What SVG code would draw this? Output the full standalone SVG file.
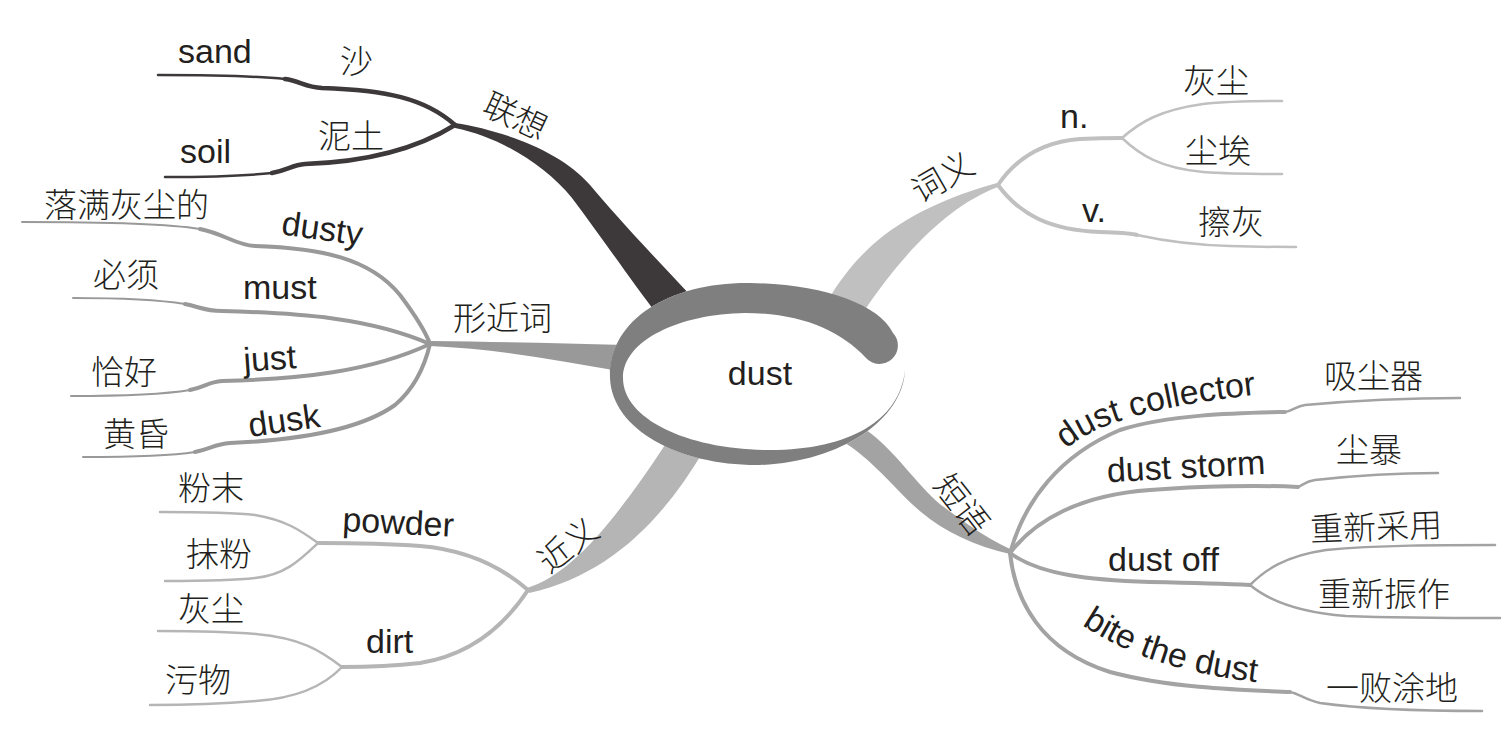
<svg xmlns="http://www.w3.org/2000/svg" width="1510" height="739" viewBox="0 0 1510 739">
<style>
.t{font-family:"Liberation Sans",Arial,sans-serif;font-size:34px;fill:#231f20}
.c{font-family:"Noto Sans CJK SC","Noto Sans CJK JP",sans-serif;font-size:33px;fill:#231f20;font-weight:300}
.ln{fill:none;stroke-linecap:round;stroke-linejoin:round}
.a{stroke-width:2}
.b{stroke-width:4}
.k1{stroke:#3d393a}.k2{stroke:#999999}.k3{stroke:#b5b5b5}.k4{stroke:#c0c0c0}.k5{stroke:#a3a3a3}
</style>
<defs>
<path id="pc" d="M1066,449 C1093,427 1138,407 1272,393"/>
<path id="pb" d="M1082,625 C1120,650 1170,672 1262,683"/>
</defs>
<g id="connectors">
<path fill="#3d393a" d="M455,123 C500,130 560,150 590,185 C615,215 655,258 695,300 L660,318 C632,282 600,235 572,198 C545,165 500,137 455,128 Z"/>
<path fill="#999999" d="M430,341 C500,342 560,343 625,345 L625,372 C560,361 500,349 430,346 Z"/>
<path fill="#b5b5b5" d="M527,588 C570,575 612,525 665,445 L703,452 C662,520 610,575 529,593 Z"/>
<path fill="#c0c0c0" d="M828,300 C858,250 900,210 997,183 L998,187 C950,205 905,250 862,314 Z"/>
<path fill="#a3a3a3" d="M840,440 C872,458 895,490 921,512 C945,532 975,546 1010,554 L1010,549 C980,535 955,515 941,505 C915,483 893,448 866,430 Z"/>
<path class="ln k1" stroke-width="2.5" d="M158,75 C210,75 255,76 285,79"/>
<path class="ln k1" stroke-width="4.5" d="M285,79 C300,81 305,87 322,88 C385,90 425,98 455,125"/>
<path class="ln k1" stroke-width="2.5" d="M165,177 C210,177 245,176 272,173"/>
<path class="ln k1" stroke-width="4.5" d="M272,173 C288,170 292,165 305,164 C365,162 415,150 455,125"/>
<path class="ln k2 a" d="M22,222 C100,222 170,224 200,229"/>
<path class="ln k2 b" d="M200,229 C225,234 235,245 255,246 C320,248 370,258 400,295 C415,315 425,330 430,344"/>
<path class="ln k2 a" d="M73,298 C120,298 160,300 185,304"/>
<path class="ln k2 b" d="M185,304 C200,307 205,311 222,311 C300,313 370,318 430,344"/>
<path class="ln k2 a" d="M71,396 C120,396 160,395 190,390"/>
<path class="ln k2 b" d="M190,390 C205,387 208,382 222,381 C300,379 370,372 430,344"/>
<path class="ln k2 a" d="M83,457 C130,457 170,456 195,452"/>
<path class="ln k2 b" d="M195,452 C210,449 215,444 230,443 C300,440 360,430 395,405 C415,388 425,365 430,344"/>
<path class="ln k3 b" d="M528,590 C505,570 470,550 420,546 C380,543 340,543 318,543"/>
<path class="ln k3" stroke-width="2.5" d="M318,543 C300,530 285,520 255,515 C230,512 200,512 160,512"/>
<path class="ln k3" stroke-width="2.5" d="M318,543 C300,560 285,575 255,578 C230,581 200,581 165,581"/>
<path class="ln k3 b" d="M528,590 C505,625 470,655 420,663 C385,667 360,667 342,667"/>
<path class="ln k3" stroke-width="2.5" d="M342,667 C320,650 300,638 256,634 C220,631 190,631 158,631"/>
<path class="ln k3" stroke-width="2.5" d="M342,667 C325,685 300,698 256,701 C220,704 185,705 150,705"/>
<path class="ln k4 b" d="M998,185 C1015,160 1040,142 1080,139 C1100,138 1110,138 1122,138"/>
<path class="ln k4" stroke-width="2.5" d="M1122,138 C1140,122 1160,110 1203,104 C1230,101 1255,101 1282,101"/>
<path class="ln k4" stroke-width="2.5" d="M1122,138 C1140,155 1160,168 1203,172 C1230,174 1255,174 1282,174"/>
<path class="ln k4 b" d="M998,185 C1020,215 1050,230 1100,232 C1125,233 1130,233 1137,235"/>
<path class="ln k4" stroke-width="2.5" d="M1137,235 C1160,240 1190,245 1230,246 C1260,247 1280,247 1296,247"/>
<path class="ln k5 b" d="M1010,553 C1025,500 1060,455 1120,430 C1170,414 1240,413 1285,412"/>
<path class="ln k5" stroke-width="2.5" d="M1285,412 C1293,411 1296,406 1305,405 C1360,400 1410,398 1460,398"/>
<path class="ln k5 b" d="M1010,553 C1035,520 1080,495 1150,490 C1200,486 1260,485 1298,487"/>
<path class="ln k5" stroke-width="2.5" d="M1298,487 C1303,485 1306,481 1315,480 C1360,475 1400,473 1438,473"/>
<path class="ln k5 b" d="M1010,553 C1040,575 1090,580 1150,582 C1200,583 1230,584 1250,585"/>
<path class="ln k5" stroke-width="2.5" d="M1250,585 C1265,570 1285,556 1326,550 C1380,545 1440,545 1495,545"/>
<path class="ln k5" stroke-width="2.5" d="M1250,585 C1268,600 1295,612 1346,616 C1400,618 1450,618 1500,618"/>
<path class="ln k5 b" d="M1010,553 C1015,600 1040,650 1110,672 C1170,688 1240,690 1290,692"/>
<path class="ln k5" stroke-width="2.5" d="M1290,692 C1300,694 1305,700 1320,703 C1370,710 1430,711 1482,711"/>
</g>
<g id="node-center">
<path fill="#ffffff" d="M905,370 C903,420 840,462 760,465 C680,466 612,430 610,378 C608,320 670,282 750,283 C820,284 880,305 893,335 Z"/>
<path fill="#7f7f7f" d="M905,370 C903,420 840,462 760,465 C680,466 612,430 610,378 C608,320 670,282 750,283 C820,284 878,303 893,333 A16,16 0 0 1 866,358 C840,330 800,313 745,313 C680,314 623,340 623,378 C623,420 690,450 770,450 C850,450 900,420 905,370 Z"/>
<text class="t" x="760" y="385" text-anchor="middle">dust</text>
</g>
<g id="node-lianxiang"><text class="c" x="515" y="128" text-anchor="middle" transform="rotate(25 515 117)">联想</text></g>
<g id="node-sand"><text class="t" x="178" y="63">sand</text></g>
<g id="node-sha"><text class="c" x="340" y="73">沙</text></g>
<g id="node-soil"><text class="t" x="180" y="163">soil</text></g>
<g id="node-nitu"><text class="c" x="318" y="148">泥土</text></g>
<g id="node-xingjinci"><text class="c" x="453" y="330">形近词</text></g>
<g id="node-dusty"><text class="t" x="322" y="240" text-anchor="middle" transform="rotate(8 322 231)">dusty</text></g>
<g id="node-luoman"><text class="c" x="44" y="217">落满灰尘的</text></g>
<g id="node-must"><text class="t" x="243" y="299">must</text></g>
<g id="node-bixu"><text class="c" x="93" y="287">必须</text></g>
<g id="node-just"><text class="t" x="270" y="370" text-anchor="middle" transform="rotate(-4 270 362)">just</text></g>
<g id="node-qiahao"><text class="c" x="91" y="384">恰好</text></g>
<g id="node-dusk"><text class="t" x="284" y="432" text-anchor="middle" transform="rotate(-8 284 420)">dusk</text></g>
<g id="node-huanghun"><text class="c" x="103" y="446">黄昏</text></g>
<g id="node-jinyi"><text class="c" x="568" y="557" text-anchor="middle" transform="rotate(-38 568 545)">近义</text></g>
<g id="node-powder"><text class="t" x="398" y="534" text-anchor="middle" transform="rotate(3 398 526)">powder</text></g>
<g id="node-fenmo"><text class="c" x="178" y="500">粉末</text></g>
<g id="node-mofen"><text class="c" x="186" y="566">抹粉</text></g>
<g id="node-dirt"><text class="t" x="366" y="653">dirt</text></g>
<g id="node-huichen1"><text class="c" x="178" y="621">灰尘</text></g>
<g id="node-wuwu"><text class="c" x="165" y="692">污物</text></g>
<g id="node-ciyi"><text class="c" x="943" y="189" text-anchor="middle" transform="rotate(-30 943 178)">词义</text></g>
<g id="node-n"><text class="t" x="1060" y="128">n.</text></g>
<g id="node-huichen2"><text class="c" x="1183" y="93">灰尘</text></g>
<g id="node-chenai"><text class="c" x="1185" y="163">尘埃</text></g>
<g id="node-v"><text class="t" x="1082" y="222">v.</text></g>
<g id="node-cahui"><text class="c" x="1198" y="234">擦灰</text></g>
<g id="node-duanyu"><text class="c" x="961" y="516" text-anchor="middle" transform="rotate(52 961 505)">短语</text></g>
<g id="node-collector"><text class="t"><textPath href="#pc">dust collector</textPath></text></g>
<g id="node-xichenqi"><text class="c" x="1324" y="388">吸尘器</text></g>
<g id="node-storm"><text class="t" x="1186" y="478" text-anchor="middle" transform="rotate(-3 1186 466)">dust storm</text></g>
<g id="node-chenbao"><text class="c" x="1336" y="462">尘暴</text></g>
<g id="node-off"><text class="t" x="1108" y="571">dust off</text></g>
<g id="node-caiyong"><text class="c" x="1376" y="539" text-anchor="middle" transform="rotate(-2 1376 527)">重新采用</text></g>
<g id="node-zhenzuo"><text class="c" x="1318" y="606">重新振作</text></g>
<g id="node-bite"><text class="t"><textPath href="#pb">bite the dust</textPath></text></g>
<g id="node-yibai"><text class="c" x="1326" y="700">一败涂地</text></g>
</svg>
